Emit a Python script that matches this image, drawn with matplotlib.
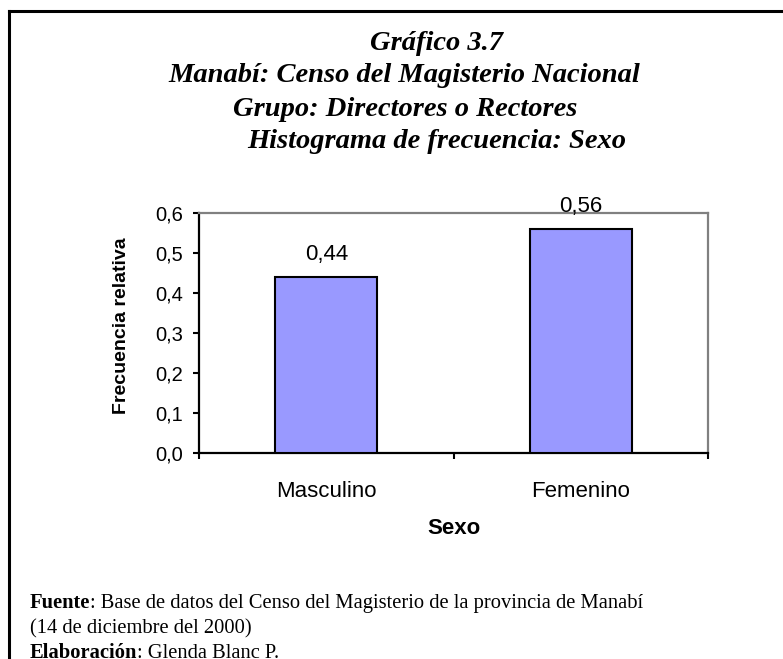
import matplotlib
matplotlib.use("Agg")
import matplotlib.pyplot as plt
from matplotlib.lines import Line2D
from matplotlib.ticker import FixedLocator, FuncFormatter

categories = ["Masculino", "Femenino"]
values = [0.44, 0.56]
value_labels = ["0,44", "0,56"]
yticks = [0.0, 0.1, 0.2, 0.3, 0.4, 0.5, 0.6]
title_lines = ["Gráfico 3.7",
               "Manabí: Censo del Magisterio Nacional",
               "Grupo: Directores o Rectores",
               "Histograma de frecuencia: Sexo"]

W, H = 783, 659
fig = plt.figure(figsize=(W/100, H/100), dpi=100)
fig.patch.set_facecolor("white")

def fx(px): return px / W
def fy(py): return 1 - py / H

# outer frame (left and top)
fig.add_artist(Line2D([fx(9), fx(9)], [fy(11), fy(H + 5)], color="black", lw=2.2, transform=fig.transFigure))
fig.add_artist(Line2D([fx(9), fx(W + 5)], [fy(11), fy(11)], color="black", lw=2.2, transform=fig.transFigure))

# titles
title_pos = [(437, 43), (404, 76), (405, 109), (437, 141)]
for (x, y), t in zip(title_pos, title_lines):
    fig.text(fx(x), fy(y), t, ha="center", va="center", fontsize=20.5,
             fontfamily="Liberation Serif", fontweight="bold", fontstyle="italic")

# axes
left, right, top, bottom = 199, 708, 213, 453
ax = fig.add_axes([fx(left), fy(bottom), fx(right - left), (bottom - top) / H])
x = list(range(len(categories)))
ax.bar(x, values, width=0.4, color="#9999FF", edgecolor="black", linewidth=1.5, zorder=3)
ax.set_xlim(-0.5, len(categories) - 0.5)
ax.set_ylim(0, 0.6)
for xi, v, lab in zip(x, values, value_labels):
    ax.annotate(lab, (xi, v), xytext=(0, 12.5), textcoords="offset points",
                ha="center", va="baseline", fontsize=16, fontfamily="Liberation Sans")

ax.yaxis.set_major_locator(FixedLocator(yticks))
ax.yaxis.set_major_formatter(FuncFormatter(lambda v, p: f"{v:.1f}".replace(".", ",")))
ax.xaxis.set_major_locator(FixedLocator([-0.5, 0.5, 1.5]))
ax.xaxis.set_major_formatter(FuncFormatter(lambda v, p: ""))
ax.set_xticks(x, minor=True)
ax.set_xticklabels(categories, minor=True)
ax.tick_params(axis="x", which="minor", length=0, pad=20, labelsize=16)
ax.tick_params(axis="x", which="major", length=4.5, width=1.5, direction="out", color="black")
ax.tick_params(axis="y", length=4.5, width=1.5, direction="out", labelsize=14.5, pad=7)
for lbl in ax.get_xticklabels(minor=True) + ax.get_yticklabels():
    lbl.set_fontfamily("Liberation Sans")

ax.spines["left"].set_color("black")
ax.spines["bottom"].set_color("black")
ax.spines["top"].set_color("#808080")
ax.spines["right"].set_color("#808080")
for s in ax.spines.values():
    s.set_linewidth(1.6)

ax.set_ylabel("Frecuencia relativa", fontsize=14, fontweight="bold", fontfamily="Liberation Sans",
              va="center")
ax.yaxis.set_label_coords((122 - left) / (right - left), 0.53)
ax.set_xlabel("Sexo", fontsize=16, fontweight="bold", fontfamily="Liberation Sans", va="center")
ax.xaxis.set_label_coords(0.5, (bottom - 528) / (bottom - top))

# footer
fs = 14.8
renderer = fig.canvas.get_renderer()

def two_part(xpx, ypx, bold, rest):
    t = fig.text(fx(xpx), fy(ypx), bold, ha="left", va="baseline", fontsize=fs,
                 fontfamily="Liberation Serif", fontweight="bold")
    bb = t.get_window_extent(renderer=renderer)
    fig.text(bb.x1 / W, fy(ypx), rest, ha="left", va="baseline", fontsize=fs,
             fontfamily="Liberation Serif")

two_part(30, 608, "Fuente", ": Base de datos del Censo del Magisterio de la provincia de Manabí")
fig.text(fx(30), fy(633), "(14 de diciembre del 2000)", ha="left", va="baseline", fontsize=fs,
         fontfamily="Liberation Serif")
two_part(30, 658, "Elaboración", ": Glenda Blanc P.")

fig.savefig("out.png", dpi=100)
